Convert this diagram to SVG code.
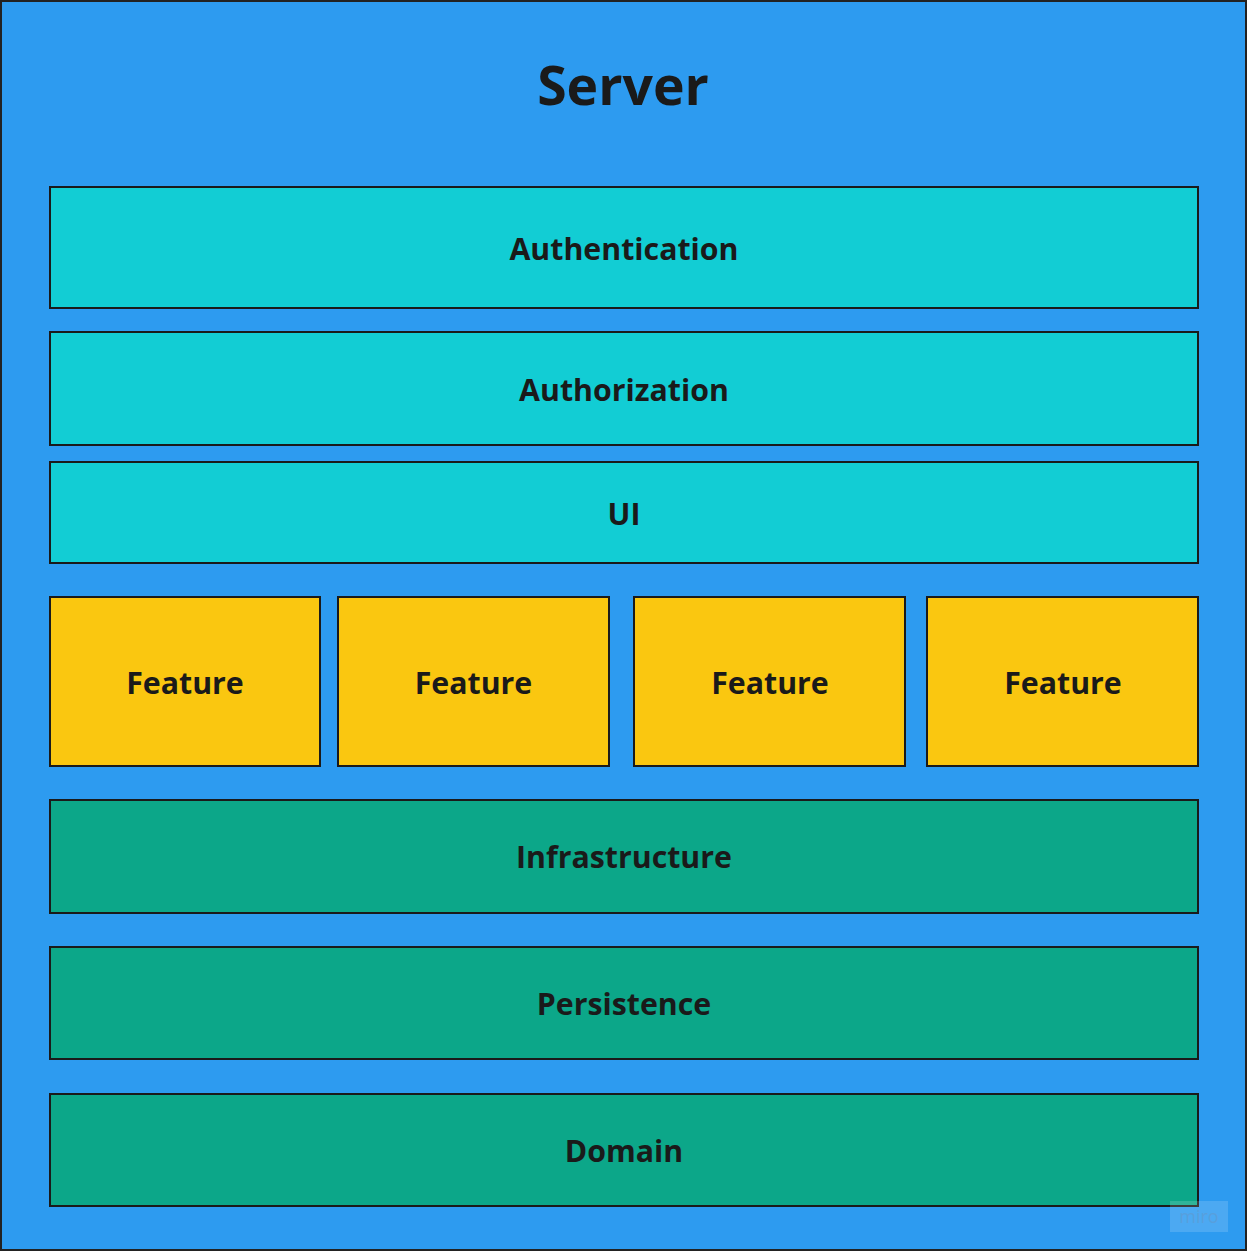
<svg xmlns="http://www.w3.org/2000/svg" width="1247" height="1252" viewBox="0 0 1247 1252">
<style>
.lbl{font-family:"Open Sans","Noto Sans","Liberation Sans",sans-serif;font-weight:700;font-size:30.3px;fill:#1a1a1a;text-anchor:middle}
.title{font-family:"Open Sans","Noto Sans","Liberation Sans",sans-serif;font-weight:700;font-size:53.5px;fill:#1a1a1a;text-anchor:middle}
.box{stroke:#1a1a1a;stroke-width:2}
.teal{fill:#12CDD4}
.yel{fill:#FAC710}
.grn{fill:#0CA789}
</style>
<g id="server">
<rect x="1" y="1" width="1245" height="1249" fill="#2D9BF0" stroke="#222" stroke-width="2"/>
<text class="title" x="623" y="105">Server</text>
</g>
<g id="authentication"><rect class="box teal" x="50" y="187" width="1148" height="121"/><text class="lbl" x="624" y="260">Authentication</text></g>
<g id="authorization"><rect class="box teal" x="50" y="332" width="1148" height="113"/><text class="lbl" x="624" y="401">Authorization</text></g>
<g id="ui"><rect class="box teal" x="50" y="462" width="1148" height="101"/><text class="lbl" x="624" y="525">UI</text></g>
<g id="feature1"><rect class="box yel" x="50" y="597" width="270" height="169"/><text class="lbl" x="185" y="694">Feature</text></g>
<g id="feature2"><rect class="box yel" x="338" y="597" width="271" height="169"/><text class="lbl" x="473.5" y="694">Feature</text></g>
<g id="feature3"><rect class="box yel" x="634" y="597" width="271" height="169"/><text class="lbl" x="770" y="694">Feature</text></g>
<g id="feature4"><rect class="box yel" x="927" y="597" width="271" height="169"/><text class="lbl" x="1063" y="694">Feature</text></g>
<g id="infrastructure"><rect class="box grn" x="50" y="800" width="1148" height="113"/><text class="lbl" x="624" y="868">Infrastructure</text></g>
<g id="persistence"><rect class="box grn" x="50" y="947" width="1148" height="112"/><text class="lbl" x="624" y="1015">Persistence</text></g>
<g id="domain"><rect class="box grn" x="50" y="1094" width="1148" height="112"/><text class="lbl" x="624" y="1162">Domain</text></g>
<g id="watermark">
<rect x="1170" y="1201" width="58" height="31" fill="#ffffff" opacity="0.15"/>
<text x="1199" y="1223" font-family="Open Sans,sans-serif" font-size="18" fill="#6f8fb5" opacity="0.35" text-anchor="middle">miro</text>
</g>
</svg>
